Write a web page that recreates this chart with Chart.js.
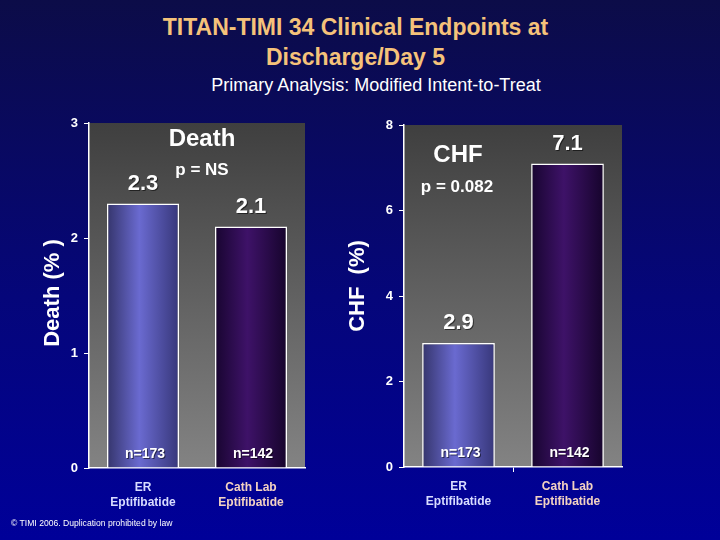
<!DOCTYPE html>
<html>
<head>
<meta charset="utf-8">
<script src="https://cdn.jsdelivr.net/npm/chart.js@4.4.0/dist/chart.umd.min.js"></script>
<style>
    body {
        margin: 0;
        width: 720px;
        height: 540px;
        overflow: hidden;
        position: relative;
        background: linear-gradient(#0c0c48, #05067a 55%, #000099);
        font-family: Arial, "Liberation Sans", sans-serif;
    }
    .titulo {
        position: absolute; left: 0; top: 12px; width: 711px;
        text-align: center; color: #f5c27a; font-weight: bold;
        font-size: 23px; line-height: 30px;
    }
    .subtitulo {
        position: absolute; left: 0; top: 75px; width: 752px;
        text-align: center; color: #fff; font-size: 18px; line-height: 20px;
    }
    .rodape {
        position: absolute; left: 11px; top: 518px;
        color: #fff; font-size: 8.6px; line-height: 10px;
    }
    #chart-death { position: absolute; left: 0; top: 100px; }
    #chart-chf { position: absolute; left: 340px; top: 100px; }
</style>
</head>
<body>
<div class="titulo">TITAN-TIMI 34 Clinical Endpoints at<br>Discharge/Day 5</div>
<div class="subtitulo">Primary Analysis: Modified Intent-to-Treat</div>
<canvas id="chart-death" width="340" height="440"></canvas>
<canvas id="chart-chf" width="380" height="440"></canvas>
<div class="rodape">© TIMI 2006. Duplication prohibited by law</div>

<script>
const categories = [['ER', 'Eptifibatide'], ['Cath Lab', 'Eptifibatide']];
const deathValues = [2.3, 2.1];
const chfValues = [2.9, 7.1];
const sampleSizes = ['n=173', 'n=142'];
const deathTicks = [0, 1, 2, 3];
const chfTicks = [0, 2, 4, 6, 8];

const FONT = 'Arial, "Liberation Sans", sans-serif';
const BAR_PCT = 0.667;

// gradient stops per bar (ER = periwinkle, Cath Lab = purple)
const barStops = [
    ['#35356c', '#6a6ad0', '#37377a'],
    ['#180530', '#3e1268', '#16042c']
];
const catColors = ['#d8dcff', '#f3d2c2'];

function barFill(ctx) {
    const chart = ctx.chart;
    const xs = chart.scales.x;
    const stops = barStops[ctx.dataIndex] || barStops[0];
    if (!chart.chartArea || !xs) return stops[1];
    const cx = xs.getPixelForValue(ctx.dataIndex);
    const w = xs.width / chart.data.labels.length * BAR_PCT;
    const g = chart.ctx.createLinearGradient(cx - w / 2, 0, cx + w / 2, 0);
    g.addColorStop(0, stops[0]);
    g.addColorStop(0.45, stops[1]);
    g.addColorStop(1, stops[2]);
    return g;
}

// grey plot background
const plotBg = {
    id: 'plotBg',
    beforeDraw(chart) {
        const a = chart.chartArea;
        const c = chart.ctx;
        const g = c.createLinearGradient(0, a.top, 0, a.bottom);
        g.addColorStop(0, '#3f3f3f');
        g.addColorStop(1, '#838383');
        c.save();
        c.fillStyle = g;
        c.fillRect(a.left, a.top, a.right - a.left, a.bottom - a.top);
        c.restore();
    }
};

// axis title, header, p value, bar values and n= labels
const notes = {
    id: 'notes',
    afterDatasetsDraw(chart, args, opts) {
        const c = chart.ctx;
        const xs = chart.scales.x;
        const ys = chart.scales.y;
        const vals = chart.data.datasets[0].data;
        c.save();
        c.fillStyle = '#fff';
        c.textAlign = 'center';
        c.textBaseline = 'middle';

        // y axis title, rotated
        c.save();
        c.translate(opts.yTitlePos[0], opts.yTitlePos[1]);
        c.rotate(-Math.PI / 2);
        c.font = 'bold 22px ' + FONT;
        c.fillText(opts.yTitle, 0, 0);
        c.restore();

        c.font = 'bold 24px ' + FONT;
        c.fillText(opts.header, opts.headerPos[0], opts.headerPos[1]);
        c.font = 'bold 17px ' + FONT;
        c.fillText(opts.pval, opts.pPos[0], opts.pPos[1]);

        c.shadowColor = 'rgba(0,0,0,0.55)';
        c.shadowOffsetX = 1;
        c.shadowOffsetY = 1;
        c.font = 'bold 22px ' + FONT;
        vals.forEach((v, i) => {
            c.fillText(v.toFixed(1), xs.getPixelForValue(i), ys.getPixelForValue(v) - 20);
        });
        c.font = 'bold 14px ' + FONT;
        sampleSizes.forEach((n, i) => {
            c.fillText(n, xs.getPixelForValue(i) + 2, chart.chartArea.bottom - 14);
        });
        c.restore();
    }
};

function criarGrafico(id, values, ticks, cfg) {
    return new Chart(document.getElementById(id), {
        type: 'bar',
        data: {
            labels: categories,
            datasets: [{
                data: values,
                backgroundColor: barFill,
                borderColor: '#fff',
                borderWidth: 1.5,
                barPercentage: BAR_PCT,
                categoryPercentage: 1
            }]
        },
        options: {
            responsive: false,
            animation: false,
            devicePixelRatio: 1,
            layout: { padding: cfg.padding },
            plugins: {
                legend: { display: false },
                tooltip: { enabled: false },
                notes: cfg.notes
            },
            scales: {
                x: {
                    grid: {
                        drawOnChartArea: false,
                        tickLength: 5,
                        color: (ctx) => (cfg.midTick && ctx.index === 1) ? '#fff' : 'rgba(0,0,0,0)'
                    },
                    border: { color: '#fff', width: 1.5 },
                    ticks: {
                        color: (ctx) => catColors[ctx.index],
                        font: { family: FONT, size: 12, weight: 'bold', lineHeight: 1.25 },
                        padding: 7,
                        maxRotation: 0
                    },
                    afterFit: (s) => { s.height = cfg.xHeight; }
                },
                y: {
                    min: ticks[0],
                    max: ticks[ticks.length - 1],
                    ticks: {
                        stepSize: ticks[1] - ticks[0],
                        color: '#fff',
                        font: { family: FONT, size: 13, weight: 'bold' },
                        padding: 6
                    },
                    grid: { drawOnChartArea: false, color: '#fff', tickLength: 5 },
                    border: { color: '#fff', width: 1.5 },
                    afterFit: (s) => { s.width = cfg.yWidth; }
                }
            }
        },
        plugins: [plotBg, notes]
    });
}

criarGrafico('chart-death', deathValues, deathTicks, {
    padding: { left: 0, right: 35, top: 23, bottom: 0 },
    xHeight: 72,
    yWidth: 89,
    midTick: false,
    notes: {
        yTitle: 'Death (% )', yTitlePos: [53, 193],
        header: 'Death', headerPos: [202, 39],
        pval: 'p = NS', pPos: [202, 70]
    }
});

criarGrafico('chart-chf', chfValues, chfTicks, {
    padding: { left: 0, right: 98, top: 25, bottom: 0 },
    xHeight: 73,
    yWidth: 64,
    midTick: true,
    notes: {
        yTitle: 'CHF  (%)', yTitlePos: [18, 186],
        header: 'CHF', headerPos: [118, 55],
        pval: 'p = 0.082', pPos: [117, 87]
    }
});
</script>
</body>
</html>
